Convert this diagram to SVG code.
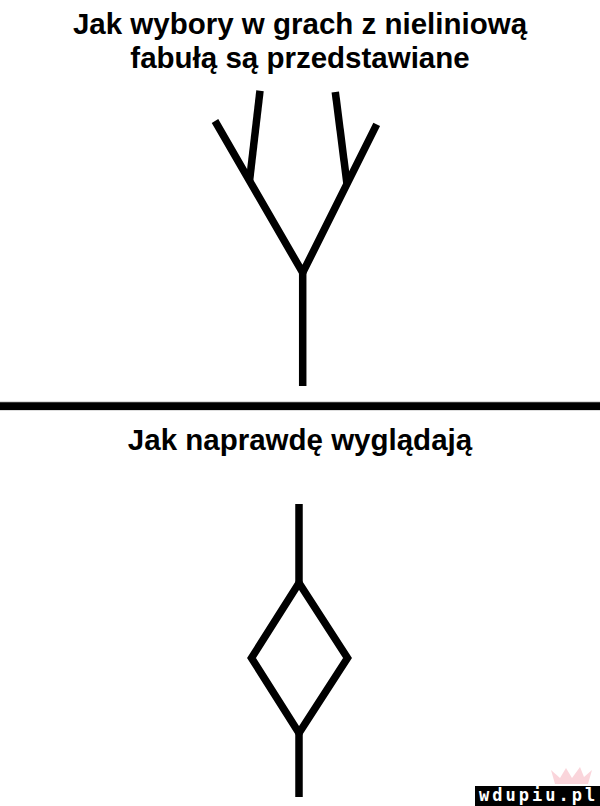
<svg xmlns="http://www.w3.org/2000/svg" width="600" height="806" viewBox="0 0 600 806">
  <style>
    .title { font-family: "Liberation Sans", Arial, sans-serif; font-weight: bold; font-size: 29.5px; fill: #000; text-anchor: middle; }
    .ln { stroke: #000; stroke-width: 7.5; fill: none; stroke-linecap: butt; stroke-linejoin: miter; }
    .wm { font-family: "DejaVu Sans Mono", monospace; font-weight: bold; font-size: 17px; fill: #fff; letter-spacing: 3px; }
  </style>
  <rect x="0" y="0" width="600" height="806" fill="#fff"/>

  <g id="title-top">
    <text class="title" x="300" y="34">Jak wybory w grach z nieliniową</text>
    <text class="title" x="300" y="68">fabułą są przedstawiane</text>
  </g>

  <g id="connectors">
    <g id="tree">
      <polyline class="ln" points="215,121 302.7,272.7 376.7,124.3"/>
      <line class="ln" x1="302.7" y1="270" x2="302.7" y2="386"/>
      <line class="ln" x1="260" y1="90.7" x2="249.5" y2="181"/>
      <line class="ln" x1="335.3" y1="92" x2="347" y2="184"/>
    </g>
    <g id="diamond-graph">
      <line class="ln" x1="299" y1="504" x2="299" y2="584"/>
      <polygon class="ln" points="299,583 251.5,658 299,733 347.5,658"/>
      <line class="ln" x1="299" y1="733" x2="299" y2="797"/>
    </g>
  </g>

  <g id="separator">
    <rect x="0" y="401.5" width="600" height="9" fill="#bbb"/>
    <rect x="0" y="402.3" width="600" height="7.7" fill="#000"/>
  </g>

  <g id="title-bottom">
    <text class="title" x="300" y="450">Jak naprawdę wyglądają</text>
  </g>

  <g id="watermark">
    <path d="M551,770 L560,778 L566,768 L572,778 L580,767 L584,777 L592,770 L588,784 L555,784 Z" fill="#f5b3bd" opacity="0.55"/>
    <rect x="475" y="786" width="125" height="20" fill="#000"/>
    <text class="wm" x="479" y="801">wdupiu.pl</text>
  </g>
</svg>
